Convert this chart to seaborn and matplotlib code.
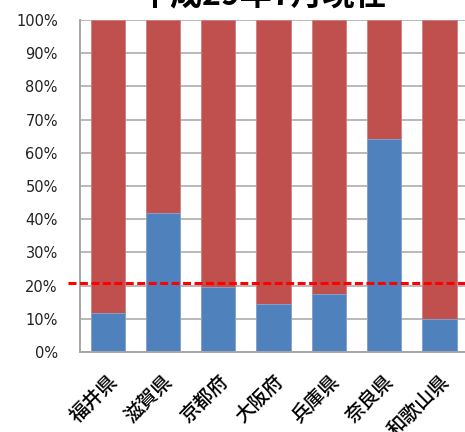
import matplotlib
matplotlib.use("Agg")
import matplotlib.pyplot as plt
import pandas as pd
import seaborn as sns

# Share of each prefecture (percent), stacked to 100%
prefectures = ["福井県", "滋賀県", "京都府", "大阪府", "兵庫県", "奈良県", "和歌山県"]
share_blue = [11.7, 42.0, 19.7, 14.4, 17.5, 64.1, 9.8]
total = [100, 100, 100, 100, 100, 100, 100]
reference_level = 20.9
title = "平成29年7月現在"
y_ticks = [0, 10, 20, 30, 40, 50, 60, 70, 80, 90, 100]

df = pd.DataFrame({"pref": prefectures, "blue": share_blue, "total": total})

sns.set_theme(style="white")
plt.rcParams["font.family"] = ["DejaVu Sans", "Noto Sans CJK JP"]

fig = plt.figure(figsize=(4.65, 4.32), dpi=100)
ax = fig.add_axes([80 / 465, 1 - 352 / 432, 1 - 80 / 465, 332 / 432])

grid_color = "#a6a6a6"
ax.set_axisbelow(True)
ax.yaxis.grid(True, color=grid_color, linewidth=1.1)

sns.barplot(data=df, x="pref", y="total", color="#C0504D", saturation=1,
            width=0.62, ax=ax, edgecolor="#d27f7d", linewidth=0.6)
sns.barplot(data=df, x="pref", y="blue", color="#4F81BD", saturation=1,
            width=0.62, ax=ax, edgecolor="#86a9d3", linewidth=0.6)

ax.axhline(reference_level, xmin=-12 / 385, xmax=1, color="#FF0000",
           linewidth=2.2, dashes=[2.6, 1.15], clip_on=False, zorder=5)

ax.set_ylim(0, 100)
ax.set_xlim(-0.5, 6.46)
ax.set_yticks(y_ticks)
ax.set_yticklabels([f"{v}%" for v in y_ticks], fontsize=10.5, color="#222222")
ax.tick_params(axis="y", length=0, pad=16)
ax.tick_params(axis="x", length=0, pad=14)
ax.set_xticks(range(len(prefectures)))
ax.set_xticklabels(prefectures, rotation=45, ha="right", va="top",
                   rotation_mode="anchor", fontsize=14, color="#000000",
                   fontweight="medium",
                   family=["Noto Sans CJK JP", "DejaVu Sans"])
ax.set_xlabel("")
ax.set_ylabel("")

for side in ["top", "right"]:
    ax.spines[side].set_visible(False)
for side in ["left", "bottom"]:
    ax.spines[side].set_color(grid_color)
    ax.spines[side].set_linewidth(1.4)

fig.text(263 / 465, 1 - 11 / 432, title, ha="center", va="bottom",
         fontsize=23, fontweight="bold", color="#000000",
         family=["Noto Sans CJK JP", "DejaVu Sans"])

fig.savefig("out.png", dpi=100)
